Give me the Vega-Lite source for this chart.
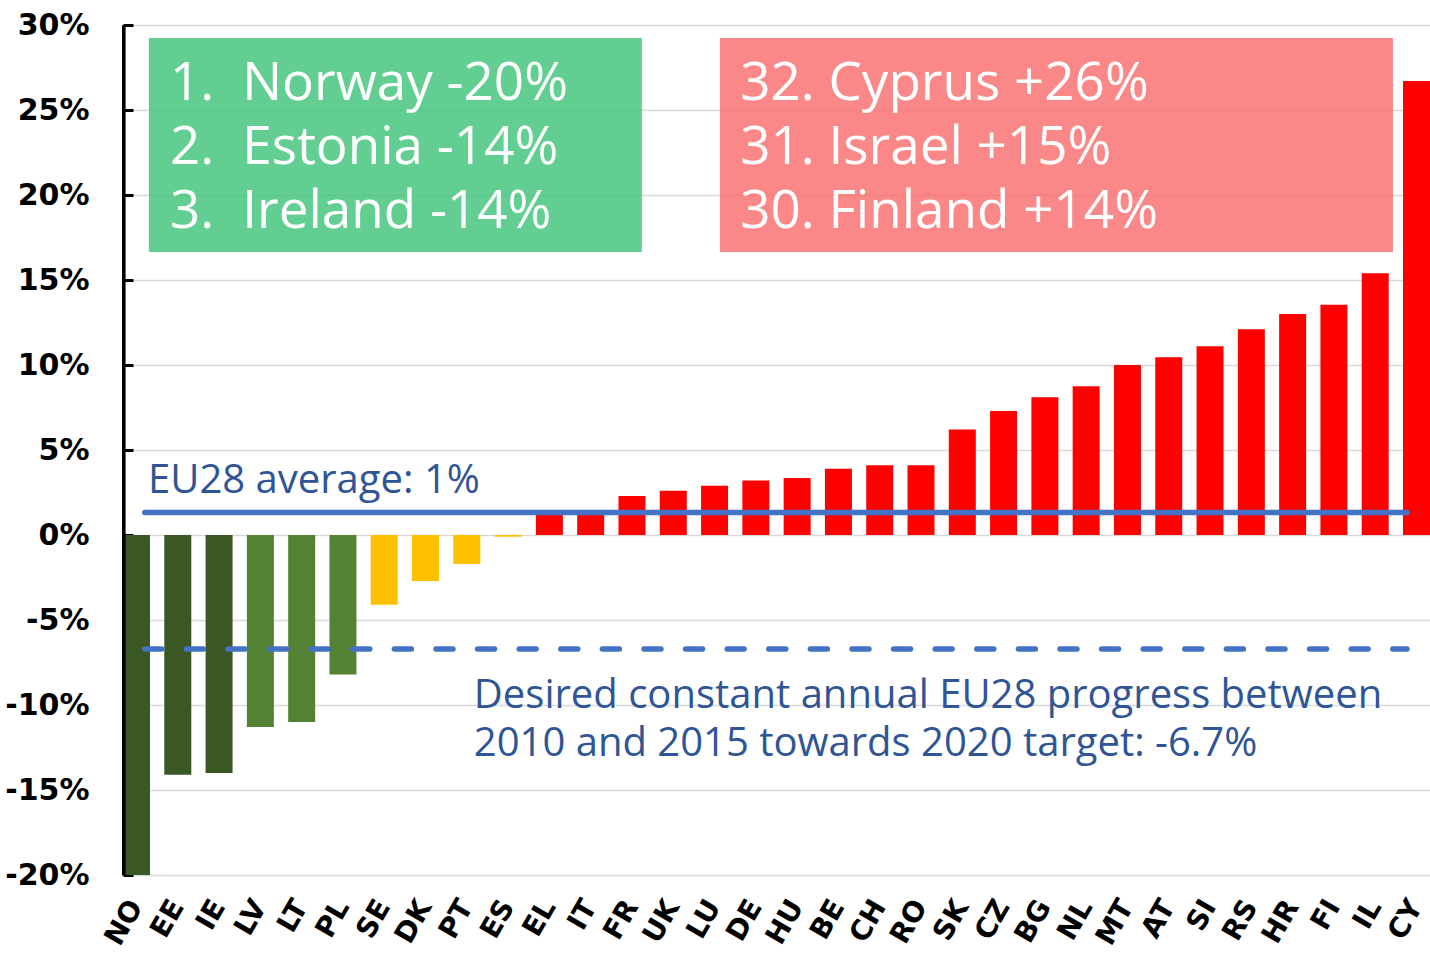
{
  "$schema": "https://vega.github.io/schema/vega-lite/v6.json",
  "width": 1307,
  "height": 850,
  "autosize": {"type": "none"},
  "padding": {"left": 123, "top": 25, "right": 0, "bottom": 83},
  "background": "white",
  "config": {"view": {"stroke": null}, "font": "Open Sans"},
  "datasets": {
    "bars": [
      {"c": "NO", "v": -20, "g": "A"},
      {"c": "EE", "v": -14.1, "g": "A"},
      {"c": "IE", "v": -14.0, "g": "A"},
      {"c": "LV", "v": -11.3, "g": "B"},
      {"c": "LT", "v": -11.0, "g": "B"},
      {"c": "PL", "v": -8.2, "g": "B"},
      {"c": "SE", "v": -4.1, "g": "C"},
      {"c": "DK", "v": -2.7, "g": "C"},
      {"c": "PT", "v": -1.7, "g": "C"},
      {"c": "ES", "v": -0.1, "g": "C"},
      {"c": "EL", "v": 1.2, "g": "D"},
      {"c": "IT", "v": 1.2, "g": "D"},
      {"c": "FR", "v": 2.3, "g": "D"},
      {"c": "UK", "v": 2.6, "g": "D"},
      {"c": "LU", "v": 2.9, "g": "D"},
      {"c": "DE", "v": 3.2, "g": "D"},
      {"c": "HU", "v": 3.35, "g": "D"},
      {"c": "BE", "v": 3.9, "g": "D"},
      {"c": "CH", "v": 4.1, "g": "D"},
      {"c": "RO", "v": 4.1, "g": "D"},
      {"c": "SK", "v": 6.2, "g": "D"},
      {"c": "CZ", "v": 7.3, "g": "D"},
      {"c": "BG", "v": 8.1, "g": "D"},
      {"c": "NL", "v": 8.75, "g": "D"},
      {"c": "MT", "v": 10.0, "g": "D"},
      {"c": "AT", "v": 10.45, "g": "D"},
      {"c": "SI", "v": 11.1, "g": "D"},
      {"c": "RS", "v": 12.1, "g": "D"},
      {"c": "HR", "v": 13.0, "g": "D"},
      {"c": "FI", "v": 13.55, "g": "D"},
      {"c": "IL", "v": 15.4, "g": "D"},
      {"c": "CY", "v": 26.7, "g": "D"}
    ],
    "boxes": [
      {"k": "best", "u1": 0.3, "u2": 12.24, "y1": 29.24, "y2": 16.65},
      {"k": "worst", "u1": 14.13, "u2": 30.43, "y1": 29.24, "y2": 16.65}
    ],
    "boxtext": [
      {"t": "1.", "u": 0.81, "y": 25.6},
      {"t": "Norway -20%", "u": 2.56, "y": 25.6},
      {"t": "2.", "u": 0.81, "y": 21.82},
      {"t": "Estonia -14%", "u": 2.56, "y": 21.82},
      {"t": "3.", "u": 0.81, "y": 18.06},
      {"t": "Ireland -14%", "u": 2.56, "y": 18.06},
      {"t": "32. Cyprus +26%", "u": 14.62, "y": 25.6},
      {"t": "31. Israel +15%", "u": 14.62, "y": 21.82},
      {"t": "30. Finland +14%", "u": 14.62, "y": 18.06}
    ],
    "bluetext": [
      {"t": "EU28 average: 1%", "u": 0.28, "y": 2.45},
      {"t": "Desired constant annual EU28 progress between", "u": 8.17, "y": -10.19},
      {"t": "2010 and 2015 towards 2020 target: -6.7%", "u": 8.17, "y": -13.0}
    ],
    "avg": [{"u1": 0.2, "u2": 30.77, "y": 1.33}],
    "target": [{"u1": 0.2, "u2": 30.77, "y": -6.7}],
    "edge": [{"u": -0.3, "y1": -20, "y2": 30}]
  },
  "layer": [
    {
      "data": {"name": "boxes"},
      "mark": {"type": "rect", "opacity": 0.8},
      "encoding": {
        "x": {"field": "u1", "type": "quantitative", "scale": {"domain": [-0.327, 31.327], "nice": false, "zero": false}, "axis": null},
        "x2": {"field": "u2"},
        "y": {"field": "y1", "type": "quantitative", "scale": {"domain": [-20, 30], "nice": false},
          "axis": {"values": [-20, -15, -10, -5, 0, 5, 10, 15, 20, 25, 30], "labelExpr": "datum.value + '%'", "labelFont": "DejaVu Sans", "labelFontWeight": "bold", "labelFontSize": 30, "labelColor": "black", "grid": true, "gridColor": "#D9D9D9", "gridWidth": 1.5, "domain": true, "domainColor": "black", "domainWidth": 3, "ticks": true, "tickColor": "black", "tickWidth": 3, "tickSize": -10, "labelPadding": 44, "title": null}},
        "y2": {"field": "y2"},
        "color": {"field": "k", "type": "nominal", "scale": {"domain": ["best", "worst"], "range": ["#3CC277", "#F96A6A"]}, "legend": null}
      }
    },
    {
      "data": {"name": "bars"},
      "mark": {"type": "bar"},
      "encoding": {
        "x": {"field": "c", "type": "nominal", "sort": null, "scale": {"paddingInner": 0.346, "paddingOuter": 0},
          "axis": {"orient": "bottom", "labelAngle": -60, "labelFont": "DejaVu Sans", "labelFontWeight": "bold", "labelFontSize": 28, "labelColor": "black", "ticks": false, "domain": false, "grid": false, "labelPadding": 27, "title": null}},
        "y": {"field": "v", "type": "quantitative", "title": null},
        "color": {"field": "g", "type": "nominal", "scale": {"domain": ["A", "B", "C", "D"], "range": ["#3B5723", "#548235", "#FFC000", "#FF0000"]}, "legend": null}
      }
    },
    {
      "mark": {"type": "rule", "color": "black", "strokeWidth": 4},
      "encoding": {"y": {"datum": 0}}
    },
    {
      "data": {"name": "edge"},
      "mark": {"type": "rule", "color": "black", "strokeWidth": 3},
      "encoding": {
        "x": {"field": "u", "type": "quantitative", "scale": {"domain": [-0.327, 31.327], "nice": false, "zero": false}, "axis": null},
        "y": {"field": "y1", "type": "quantitative", "title": null},
        "y2": {"field": "y2"}
      }
    },
    {
      "data": {"name": "avg"},
      "mark": {"type": "rule", "color": "#4472C4", "strokeWidth": 5.5, "strokeCap": "round"},
      "encoding": {
        "x": {"field": "u1", "type": "quantitative", "scale": {"domain": [-0.327, 31.327], "nice": false, "zero": false}, "axis": null},
        "x2": {"field": "u2"},
        "y": {"field": "y", "type": "quantitative", "title": null}
      }
    },
    {
      "data": {"name": "target"},
      "mark": {"type": "rule", "color": "#4472C4", "strokeWidth": 5.5, "strokeCap": "round", "strokeDash": [17, 24.6]},
      "encoding": {
        "x": {"field": "u1", "type": "quantitative", "scale": {"domain": [-0.327, 31.327], "nice": false, "zero": false}, "axis": null},
        "x2": {"field": "u2"},
        "y": {"field": "y", "type": "quantitative", "title": null}
      }
    },
    {
      "data": {"name": "boxtext"},
      "mark": {"type": "text", "font": "Open Sans", "fontSize": 53, "color": "white", "align": "left", "baseline": "alphabetic"},
      "encoding": {
        "x": {"field": "u", "type": "quantitative", "scale": {"domain": [-0.327, 31.327], "nice": false, "zero": false}, "axis": null},
        "y": {"field": "y", "type": "quantitative", "title": null},
        "text": {"field": "t"}
      }
    },
    {
      "data": {"name": "bluetext"},
      "mark": {"type": "text", "font": "Open Sans", "fontSize": 40, "color": "#2F5597", "align": "left", "baseline": "alphabetic"},
      "encoding": {
        "x": {"field": "u", "type": "quantitative", "scale": {"domain": [-0.327, 31.327], "nice": false, "zero": false}, "axis": null},
        "y": {"field": "y", "type": "quantitative", "title": null},
        "text": {"field": "t"}
      }
    }
  ],
  "resolve": {"scale": {"x": "independent", "color": "independent"}}
}
